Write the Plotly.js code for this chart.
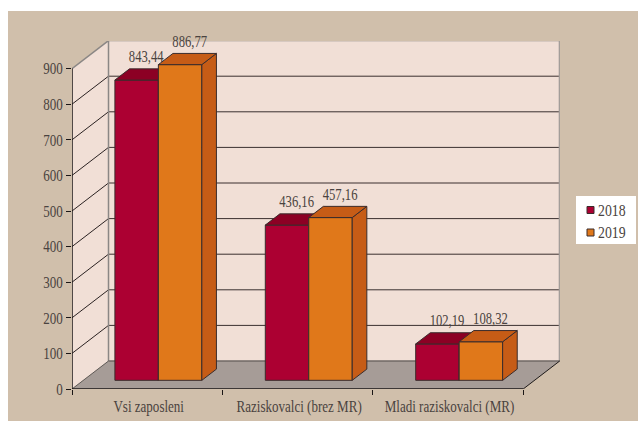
<!DOCTYPE html>
<html>
<head>
<meta charset="utf-8">
<script src="https://cdn.plot.ly/plotly-3.0.1.min.js"></script>
<style>
html,body{margin:0;padding:0;background:#fff;width:638px;height:421px;overflow:hidden}
#c{position:absolute;left:8px;top:11px;width:630px;height:410px}
</style>
</head>
<body>
<div id="c"></div>
<script>
const categories = ['Vsi zaposleni', 'Raziskovalci (brez MR)', 'Mladi raziskovalci (MR)'];
const years = ['2018', '2019'];
const values2018 = [843.44, 436.16, 102.19];
const values2019 = [886.77, 457.16, 108.32];
const labels2018 = ['843,44', '436,16', '102,19'];
const labels2019 = ['886,77', '457,16', '108,32'];
const yTicks = [0, 100, 200, 300, 400, 500, 600, 700, 800, 900];

const FONT = '"Liberation Serif", serif';
const FS = 16.5, SQUEEZE = 0.79;
const TXT = '#4a4340';
const EDGE = '#3a2c2c';
const WALL = '#f1dfd6';
const FLOOR = '#a69c97';
const FRAME = '#8b8785';
const RED = '#ac0032', RED_D = '#8c0024', ORANGE = '#e0781a', ORANGE_D = '#c65c16';
const pxX = 150.4, pxY = 0.356;
const DX = 36.5 / pxX, DY = 28 / pxY;          // oblique depth of the box
const d0 = 0.31, d1 = 0.71;                    // bar depth inside the box
const slot = 0.21, bw = 0.289;                 // bar placement inside a category
const xMax = 488 / pxX, yMax = 348 / pxY, yTop = yTicks[yTicks.length - 1];
const nCat = categories.length;

const PX = (x, d) => x + d * DX;
const PY = (v, d) => v + d * DY;
function poly(pts, fill, line, lw, ax) {
  return {type:'scatter', mode:'lines', x:pts.map(p=>PX(p[0],p[2])).concat(PX(pts[0][0],pts[0][2])),
    y:pts.map(p=>PY(p[1],p[2])).concat(PY(pts[0][1],pts[0][2])),
    fill:'toself', fillcolor:fill, line:{color:line,width:lw}, hoverinfo:'skip', showlegend:false,
    xaxis:ax[0], yaxis:ax[1]};
}
function seg(pts, color, w) {
  return {type:'scatter', mode:'lines', x:pts.map(p=>PX(p[0],p[2])), y:pts.map(p=>PY(p[1],p[2])),
    line:{color:color,width:w}, hoverinfo:'skip', showlegend:false, cliponaxis:false, xaxis:'x', yaxis:'y'};
}
function series(vals, labels, i, front, top, side, ax, name) {
  const out = [];
  const x0s = vals.map((v,c)=>c+slot+i*bw);
  out.push({type:'bar', name:name, x:x0s.map(x=>PX(x+bw/2,d0)), y:vals, base:vals.map(()=>d0*DY), width:bw,
    marker:{color:front,line:{color:EDGE,width:1}}, xaxis:ax[0], yaxis:ax[1], showlegend:false,
    hovertemplate:'%{text}<extra>'+name+'</extra>', text:labels, textposition:'none'});
  vals.forEach((v,c)=>{
    const a=x0s[c], b=a+bw;
    out.push(poly([[b,0,d0],[b,0,d1],[b,v,d1],[b,v,d0]],side,EDGE,1,ax));
    out.push(poly([[a,v,d0],[b,v,d0],[b,v,d1],[a,v,d1]],top,EDGE,1,ax));
  });
  out.push({type:'scatter', mode:'text', x:x0s.map(x=>PX(x+bw/2,d1)-5/pxX), y:vals.map(v=>PY(v,d1)+10.5/pxY),
    text:labels, textposition:'middle center', textfont:{family:FONT,size:16,color:TXT},
    cliponaxis:false, hoverinfo:'skip', showlegend:false, xaxis:ax[0], yaxis:ax[1]});
  return out;
}

const shapes = [];
function quad(p, fill, color, w) {
  shapes.push({type:'path', xref:'x', yref:'y', layer:'below', fillcolor:fill, line:{color:color,width:w},
    path:'M'+p.map(q=>PX(q[0],q[2])+','+PY(q[1],q[2])).join('L')+'Z'});
}
quad([[0,0,0],[0,yTop,0],[0,yTop,1],[0,0,1]], WALL, 'rgba(0,0,0,0)', 0);
quad([[0,0,1],[nCat,0,1],[nCat,yTop,1],[0,yTop,1]], WALL, 'rgba(0,0,0,0)', 0);
quad([[0,0,0],[nCat,0,0],[nCat,0,1],[0,0,1]], FLOOR, 'rgba(0,0,0,0)', 0);
function line(a, b, color, w) {
  shapes.push({type:'line', xref:'x', yref:'y', layer:'below', line:{color:color,width:w},
    x0:PX(a[0],a[2]), y0:PY(a[1],a[2]), x1:PX(b[0],b[2]), y1:PY(b[1],b[2])});
}
yTicks.forEach(v=>{
  if (v === 0 || v === yTop) return;
  line([0,v,0],[0,v,1],'#2b2222',1);
  line([0,v,1],[nCat,v,1],'#3a2f2f',1);
});
line([0,yTop,0],[0,yTop,1],FRAME,1.5);
line([0,yTop,1],[nCat,yTop,1],FRAME,1.5);
line([0,0,1],[0,yTop,1],FRAME,1.5);
line([nCat,0,1],[nCat,yTop,1],'#a39d99',2);
line([0,0,1],[nCat,0,1],'#6f6864',1.5);
line([0,0,0],[0,0,1],'#5f5a57',1);
line([nCat,0,0],[nCat,0,1],'#1e1a1a',1);

// legend key, placed in page pixels (the chart is 488x348 with its corner at 72,41)
const pxToPaperX = p => (p - 72) / 488, pxToPaperY = p => (389 - p) / 348;
shapes.push({type:'rect', xref:'paper', yref:'paper', layer:'above', fillcolor:'#ffffff', line:{width:0},
  x0:pxToPaperX(576), x1:pxToPaperX(636), y0:pxToPaperY(196), y1:pxToPaperY(244)});
const annotations = [];
[[years[0],RED,210],[years[1],ORANGE,232.5]].forEach(k=>{
  shapes.push({type:'rect', xref:'paper', yref:'paper', layer:'above', fillcolor:k[1], line:{color:EDGE,width:1},
    x0:pxToPaperX(587), x1:pxToPaperX(594), y0:pxToPaperY(k[2]+3.5), y1:pxToPaperY(k[2]-3.5)});
  annotations.push({xref:'paper', yref:'paper', x:pxToPaperX(596.5), y:pxToPaperY(k[2]-0.5), xanchor:'left', yanchor:'middle',
    text:k[0], showarrow:false, align:'left', borderpad:0, font:{family:FONT,size:17.5,color:TXT}});
});

const data = [].concat(
  series(values2018, labels2018, 0, RED, RED_D, RED_D, ['x','y'], years[0]),
  [seg([[0,0,0],[0,yTop,0]],'#1a1616',1.5), seg([[0,0,0],[nCat,0,0]],'#1a1616',1.5)],
  series(values2019, labels2019, 1, ORANGE, ORANGE_D, ORANGE_D, ['x2','y2'], years[1])
);

const catCentres = categories.map((_,i)=>i+0.5+1.5/pxX);
const catEdges = [0,1,2,3];
const layout = {
  width:630, height:410, autosize:false,
  margin:{l:64, r:78, t:30, b:32, pad:0},
  paper_bgcolor:'#d0bfab', plot_bgcolor:'rgba(0,0,0,0)',
  barmode:'overlay', dragmode:false, shapes:shapes, annotations:annotations, showlegend:false,
  font:{family:FONT,size:FS,color:TXT},
  xaxis:{range:[0,xMax], tickmode:'array', tickvals:catCentres, ticktext:categories, ticks:'outside',
    ticklen:2, tickcolor:'rgba(0,0,0,0)', showgrid:false, zeroline:false, showline:false,
    tickfont:{family:FONT,size:FS,color:TXT}, tickangle:0, fixedrange:true},
  yaxis:{range:[0,yMax], tickmode:'array', tickvals:yTicks, ticktext:yTicks.map(String), ticks:'outside',
    ticklen:5, tickwidth:1, tickcolor:'#1a1616', showgrid:false, zeroline:false, showline:false,
    tickfont:{family:FONT,size:FS,color:TXT}, fixedrange:true},
  xaxis2:{overlaying:'x', anchor:'y2', side:'bottom', range:[0,xMax], tickmode:'array', tickvals:catEdges,
    ticktext:catEdges.map(()=>''), ticks:'outside', ticklen:5, tickwidth:1, tickcolor:'#1a1616',
    showgrid:false, zeroline:false, showline:false, fixedrange:true},
  yaxis2:{overlaying:'y', anchor:'x2', side:'left', range:[0,yMax], showticklabels:false, ticks:'',
    showgrid:false, zeroline:false, showline:false, fixedrange:true}
};
Plotly.newPlot('c', data, layout, {displayModeBar:false, staticPlot:true}).then(()=>{
  // the original's serif is a condensed cut: narrow the glyphs of the real text
  document.querySelectorAll('#c svg text').forEach(t=>{
    const len = t.getComputedTextLength();
    if (len > 0) { t.setAttribute('textLength', len*SQUEEZE); t.setAttribute('lengthAdjust','spacingAndGlyphs'); }
  });
});
</script>
</body>
</html>
